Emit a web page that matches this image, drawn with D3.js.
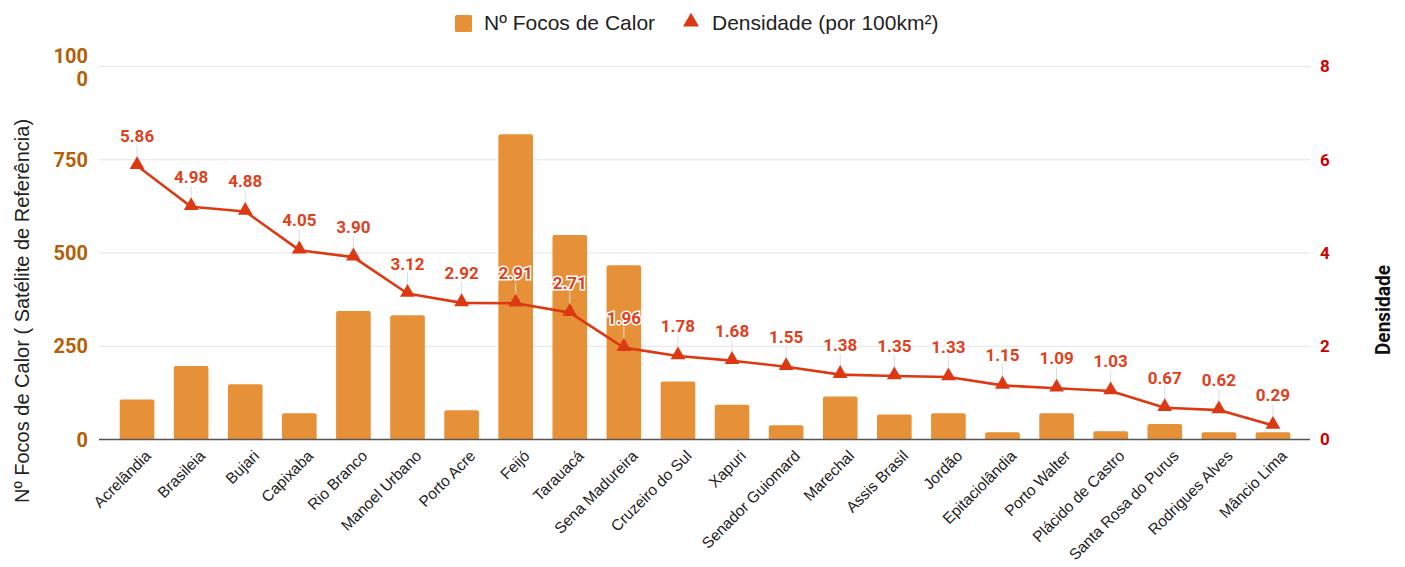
<!DOCTYPE html>
<html>
<head>
<meta charset="utf-8">
<script src="https://cdn.jsdelivr.net/npm/d3@7"></script>
<style>
  html, body { margin: 0; padding: 0; background: #fff; }
  svg { display: block; }
</style>
</head>
<body>
<svg id="chart" width="1405" height="567"></svg>
<script>
// Municípios do Acre: focos de calor e densidade por 100 km²
const municipios = ["Acrelândia", "Brasileia", "Bujari", "Capixaba", "Rio Branco", "Manoel Urbano",
  "Porto Acre", "Feijó", "Tarauacá", "Sena Madureira", "Cruzeiro do Sul", "Xapuri",
  "Senador Guiomard", "Marechal", "Assis Brasil", "Jordão", "Epitaciolândia", "Porto Walter",
  "Plácido de Castro", "Santa Rosa do Purus", "Rodrigues Alves", "Mâncio Lima"];
const focos = [106, 196, 147, 69, 343, 332, 77, 817, 547, 466, 154, 92, 37, 114, 66, 69, 18, 69, 21, 40, 18, 18];
const densidade = [5.86, 4.98, 4.88, 4.05, 3.90, 3.12, 2.92, 2.91, 2.71, 1.96, 1.78, 1.68, 1.55, 1.38, 1.35, 1.33, 1.15, 1.09, 1.03, 0.67, 0.62, 0.29];
const ticksFocos = [0, 250, 500, 750, 1000];
const ticksDens = [0, 2, 4, 6, 8];

const corBarra = "#e69138";
const corLinha = "#dc3912";
const corRotulo = "#e0401c";
const fonteTexto = "'Liberation Sans', Arial, sans-serif";

const svg = d3.select("#chart");
const plot = { left: 99, right: 1310, top: 66, bottom: 439 };

const x = d3.scaleBand().domain(municipios).range([110, 1300]).paddingInner(0.36).paddingOuter(0.18);
const yL = d3.scaleLinear().domain([0, 1000]).range([plot.bottom, plot.top]);
const yR = d3.scaleLinear().domain([0, 8]).range([plot.bottom, plot.top]);

// linhas de grade
svg.append("g").selectAll("line").data(ticksFocos.slice(1)).join("line")
  .attr("x1", plot.left).attr("x2", plot.right)
  .attr("y1", d => yL(d) + 0.5).attr("y2", d => yL(d) + 0.5)
  .attr("stroke", "#e4e4e4").attr("stroke-width", 1.2);

// barras
svg.append("g").selectAll("path").data(focos).join("path")
  .attr("fill", corBarra)
  .attr("d", (d, i) => {
    const x0 = x(municipios[i]), w = x.bandwidth(), y0 = yL(d), y1 = yL(0), r = 2;
    return `M${x0},${y1}V${y0 + r}Q${x0},${y0} ${x0 + r},${y0}H${x0 + w - r}Q${x0 + w},${y0} ${x0 + w},${y0 + r}V${y1}Z`;
  });

// linha de base
svg.append("line").attr("x1", plot.left).attr("x2", plot.right)
  .attr("y1", plot.bottom + 0.5).attr("y2", plot.bottom + 0.5)
  .attr("stroke", "#555").attr("stroke-width", 1.3);

// eixo esquerdo
const eixoL = svg.append("g").attr("transform", `translate(${88},0)`)
  .call(d3.axisLeft(yL).tickValues(ticksFocos).tickSize(0).tickPadding(0).tickFormat(d => d === 1000 ? "" : d));
eixoL.select(".domain").remove();
eixoL.selectAll("text").attr("fill", "#b45f06").style("font", "bold 20px Roboto").attr("dy", "0.35em");
// 1000 quebrado em duas linhas
const t1000 = eixoL.selectAll(".tick").filter(d => d === 1000).select("text");
t1000.append("tspan").attr("x", 0).attr("dy", "-0.2em").text("100");
t1000.append("tspan").attr("x", 0).attr("dy", "1.15em").text("0");

// eixo direito
const eixoR = svg.append("g").attr("transform", `translate(${1320},0)`)
  .call(d3.axisRight(yR).tickValues(ticksDens).tickSize(0).tickPadding(0));
eixoR.select(".domain").remove();
eixoR.selectAll("text").attr("fill", "#cc0000").style("font", "bold 17px Roboto").attr("dy", "0.35em");

// rótulos do eixo x
const eixoX = svg.append("g").attr("transform", `translate(0,${plot.bottom})`)
  .call(d3.axisBottom(x).tickSize(0).tickPadding(0));
eixoX.select(".domain").remove();
eixoX.selectAll("text")
  .attr("fill", "#222").style("font", `15.5px ${fonteTexto}`)
  .attr("text-anchor", "end")
  .attr("transform", "translate(11,14) rotate(-45)")
  .attr("dy", "0.35em");

// títulos dos eixos
svg.append("text")
  .attr("transform", `translate(29,${311}) rotate(-90)`)
  .attr("text-anchor", "middle")
  .attr("fill", "#222")
  .style("font", `20px ${fonteTexto}`)
  .text("Nº Focos de Calor ( Satélite de Referência)");
svg.append("text")
  .attr("transform", `translate(1390,${310}) rotate(-90)`)
  .attr("text-anchor", "middle")
  .attr("fill", "#111")
  .attr("textLength", 90).attr("lengthAdjust", "spacingAndGlyphs")
  .style("font", "bold 21px Roboto")
  .text("Densidade");

// linha de densidade
const cx = i => x(municipios[i]) + x.bandwidth() / 2;
svg.append("path").datum(densidade)
  .attr("fill", "none").attr("stroke", corLinha).attr("stroke-width", 2.6)
  .attr("stroke-linejoin", "round")
  .attr("d", d3.line().x((d, i) => cx(i)).y(d => yR(d)));

// linhas-guia dos rótulos
svg.append("g").selectAll("line").data(densidade).join("line")
  .attr("x1", (d, i) => cx(i)).attr("x2", (d, i) => cx(i))
  .attr("y1", d => yR(d) - 21).attr("y2", d => yR(d) - 6)
  .attr("stroke", "#dddddd").attr("stroke-width", 1);

// marcadores triangulares
const tri = d3.symbol().type(d3.symbolTriangle).size(95);
svg.append("g").selectAll("path").data(densidade).join("path")
  .attr("d", tri)
  .attr("transform", (d, i) => `translate(${cx(i)},${yR(d) - 1})`)
  .attr("fill", corLinha);

// rótulos de valor
svg.append("g").selectAll("text").data(densidade).join("text")
  .attr("x", (d, i) => cx(i)).attr("y", d => yR(d) - 24)
  .attr("text-anchor", "middle")
  .attr("fill", corRotulo)
  .attr("stroke", "#fff").attr("stroke-width", 3).attr("paint-order", "stroke")
  .style("font", "bold 17px Roboto")
  .text(d => d.toFixed(2));

// legenda
const leg = svg.append("g").attr("transform", "translate(0,23)");
leg.append("rect").attr("x", 455).attr("y", -8).attr("width", 17).attr("height", 17).attr("rx", 1.5).attr("fill", corBarra);
leg.append("text").attr("x", 484).attr("y", 0).attr("dy", "0.35em")
  .attr("fill", "#222").style("font", `21px ${fonteTexto}`).text("Nº Focos de Calor");
leg.append("path").attr("d", d3.symbol().type(d3.symbolTriangle).size(110)).attr("transform", "translate(691,-1)").attr("fill", corLinha);
leg.append("text").attr("x", 712).attr("y", 0).attr("dy", "0.35em")
  .attr("fill", "#222").style("font", `21px ${fonteTexto}`).text("Densidade (por 100km²)");
</script>
</body>
</html>
